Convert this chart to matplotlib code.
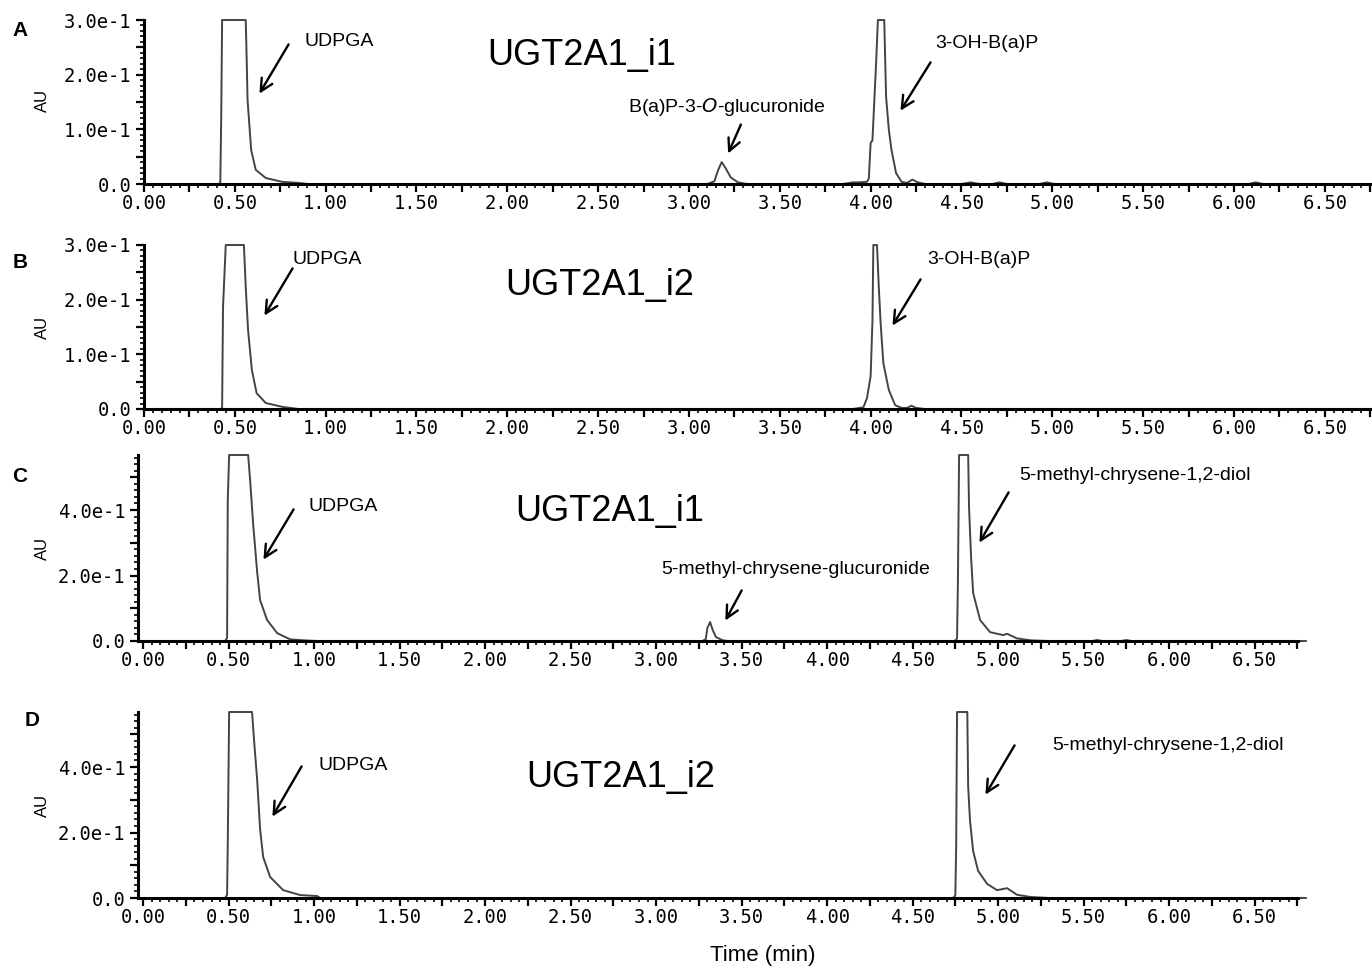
import matplotlib
matplotlib.use("Agg")
import matplotlib.pyplot as plt
from matplotlib.ticker import MultipleLocator, FuncFormatter

# ---------------- data ----------------
# Panel A: UGT2A1_i1 with 3-OH-B(a)P
t_A = [0.00, 0.41, 0.42, 0.425, 0.43, 0.56, 0.565, 0.57, 0.59, 0.615, 0.67, 0.76, 0.85, 0.90,
       3.10, 3.14, 3.16, 3.18, 3.20, 3.23, 3.27, 3.32,
       3.85, 3.90, 3.93, 3.98, 3.99, 4.00, 4.01, 4.03, 4.04, 4.075, 4.085, 4.10, 4.115, 4.14,
       4.17, 4.20, 4.23, 4.26, 4.30, 4.50, 4.55, 4.60, 4.67, 4.71, 4.75, 4.93, 4.97, 5.01,
       6.08, 6.12, 6.16, 6.80]
au_A = [0.0, 0.0, 0.002, 0.12, 0.30, 0.30, 0.232, 0.154, 0.062, 0.026, 0.011, 0.004, 0.002, 0.0,
        0.0, 0.005, 0.025, 0.040, 0.030, 0.012, 0.003, 0.0,
        0.0, 0.003, 0.003, 0.004, 0.010, 0.075, 0.080, 0.22, 0.30, 0.30, 0.16, 0.10, 0.062, 0.020,
        0.004, 0.002, 0.008, 0.003, 0.0, 0.0, 0.003, 0.0, 0.0, 0.003, 0.0, 0.0, 0.003, 0.0,
        0.0, 0.003, 0.0, 0.0]

# Panel B: UGT2A1_i2 with 3-OH-B(a)P
t_B = [0.00, 0.42, 0.43, 0.435, 0.45, 0.55, 0.56, 0.573, 0.594, 0.62, 0.67, 0.76, 0.85,
       3.90, 3.96, 3.98, 3.99, 4.00, 4.01, 4.015, 4.035, 4.045, 4.055, 4.07, 4.10, 4.135,
       4.17, 4.20, 4.225, 4.25, 4.30, 6.80]
au_B = [0.0, 0.0, 0.002, 0.186, 0.30, 0.30, 0.223, 0.144, 0.071, 0.029, 0.011, 0.004, 0.0,
        0.0, 0.003, 0.020, 0.040, 0.060, 0.160, 0.30, 0.30, 0.223, 0.157, 0.084, 0.035, 0.007,
        0.002, 0.002, 0.006, 0.002, 0.0, 0.0]

# Panel C: UGT2A1_i1 with 5-methyl-chrysene-1,2-diol
t_C = [-0.03, 0.48, 0.491, 0.495, 0.503, 0.614, 0.626, 0.643, 0.667, 0.684, 0.725, 0.784, 0.86,
       0.94, 1.02,
       3.27, 3.29, 3.30, 3.316, 3.33, 3.35, 3.39, 3.42,
       4.74, 4.755, 4.76, 4.765, 4.772, 4.825, 4.83, 4.842, 4.854, 4.895, 4.953, 5.03, 5.053,
       5.11, 5.19, 5.30, 5.55, 5.58, 5.61, 5.72, 5.75, 5.78, 6.80]
au_C = [0.0, 0.0, 0.01, 0.43, 0.568, 0.568, 0.49, 0.36, 0.21, 0.125, 0.064, 0.024, 0.005,
        0.002, 0.0,
        0.0, 0.005, 0.040, 0.058, 0.035, 0.012, 0.002, 0.0,
        0.0, 0.003, 0.01, 0.177, 0.568, 0.568, 0.41, 0.257, 0.147, 0.064, 0.027, 0.018, 0.022,
        0.008, 0.002, 0.0, 0.0, 0.003, 0.0, 0.0, 0.003, 0.0, 0.0]

# Panel D: UGT2A1_i2 with 5-methyl-chrysene-1,2-diol
t_D = [-0.03, 0.48, 0.491, 0.495, 0.503, 0.637, 0.649, 0.667, 0.684, 0.702, 0.743, 0.819, 0.918,
       1.018, 1.035,
       4.73, 4.745, 4.75, 4.755, 4.76, 4.82, 4.825, 4.836, 4.854, 4.883, 4.936, 4.994, 5.053,
       5.11, 5.19, 5.30, 6.80]
au_D = [0.0, 0.0, 0.01, 0.168, 0.568, 0.568, 0.48, 0.36, 0.21, 0.125, 0.064, 0.024, 0.009,
        0.006, 0.0,
        0.0, 0.003, 0.01, 0.16, 0.568, 0.568, 0.34, 0.235, 0.144, 0.083, 0.043, 0.024, 0.030,
        0.010, 0.003, 0.0, 0.0]

titles = ["UGT2A1_i1", "UGT2A1_i2", "UGT2A1_i1", "UGT2A1_i2"]
panel_letters = ["A", "B", "C", "D"]
x_label = "Time (min)"
y_label = "AU"

# ---------------- figure ----------------
W, H = 1372, 968
fig = plt.figure(figsize=(W / 100, H / 100), dpi=100)
fig.patch.set_facecolor("white")

SANS = ["Liberation Sans", "DejaVu Sans"]
TICKFONT = ["DejaVu Sans Mono", "DejaVu Sans"]


def px_rect(left, right, top, bottom):
    return [left / W, 1 - bottom / H, (right - left) / W, (bottom - top) / H]


def fx(x):
    return x / W


def fy(y):
    return 1 - y / H


def ylab(v, pos):
    if abs(v) < 1e-9:
        return "0.0"
    return f"{v * 10:.1f}e-1"


def style_axes(ax, xlim, ylim, ymajor, ylabel_step, yminor):
    ax.set_xlim(*xlim)
    ax.set_ylim(*ylim)
    for s in ("top", "right"):
        ax.spines[s].set_visible(False)
    for s in ("left", "bottom"):
        ax.spines[s].set_linewidth(2.2)
        ax.spines[s].set_zorder(3)
    ax.xaxis.set_major_locator(MultipleLocator(0.25))
    ax.xaxis.set_minor_locator(MultipleLocator(0.05))
    ax.xaxis.set_major_formatter(
        FuncFormatter(lambda v, p: f"{v:.2f}" if abs(round(v / 0.5) * 0.5 - v) < 1e-6 else ""))
    ax.yaxis.set_major_locator(MultipleLocator(ymajor))
    ax.yaxis.set_minor_locator(MultipleLocator(yminor))
    ax.yaxis.set_major_formatter(
        FuncFormatter(lambda v, p: ylab(v, p) if abs(round(v / ylabel_step) * ylabel_step - v) < 1e-6 else ""))
    ax.tick_params(axis="both", which="major", direction="out", length=6, width=1.6, colors="black")
    ax.tick_params(axis="both", which="minor", direction="out", length=3, width=1.2, colors="black")
    ax.tick_params(axis="x", which="major", pad=1)
    ax.tick_params(axis="y", which="major", pad=3)
    for lab in ax.get_xticklabels() + ax.get_yticklabels():
        lab.set_fontfamily(TICKFONT)
        lab.set_fontsize(13.5)
    ax.set_facecolor("none")


panels = [
    dict(t=t_A, au=au_A, rect=px_rect(144, 1372, 20, 184), xlim=(0.0, 6.76), ylim=(0, 0.30),
         ymajor=0.05, ystep=0.1, yminor=0.01),
    dict(t=t_B, au=au_B, rect=px_rect(144, 1372, 245, 409), xlim=(0.0, 6.76), ylim=(0, 0.30),
         ymajor=0.05, ystep=0.1, yminor=0.01),
    dict(t=t_C, au=au_C, rect=px_rect(138, 1298, 455, 641), xlim=(-0.03, 6.754), ylim=(0, 0.568),
         ymajor=0.1, ystep=0.2, yminor=0.02),
    dict(t=t_D, au=au_D, rect=px_rect(138, 1298, 712, 898), xlim=(-0.03, 6.754), ylim=(0, 0.568),
         ymajor=0.1, ystep=0.2, yminor=0.02),
]

axes = []
for p in panels:
    ax = fig.add_axes(p["rect"])
    ax.plot(p["t"], p["au"], color="#444444", lw=1.4, clip_on=False, zorder=2)
    style_axes(ax, p["xlim"], p["ylim"], p["ymajor"], p["ystep"], p["yminor"])
    axes.append(ax)

# panel letters
for letter, (x, y) in zip(panel_letters, [(20, 30), (20, 262), (20, 477), (32, 720)]):
    fig.text(fx(x), fy(y), letter, fontsize=15, fontweight="bold", family=SANS,
             ha="center", va="center")

# AU labels
for y in (100, 327, 548, 805):
    fig.text(fx(42), fy(y), y_label, fontsize=12, family=SANS, rotation=90,
             ha="center", va="center")

# big titles
for title, (x, y) in zip(titles, [(582, 55), (600, 285), (610, 512), (621, 777)]):
    fig.text(fx(x), fy(y), title, fontsize=26, family=SANS, ha="center", va="center")

# peak annotations: (label, text-left-x, text-y, arrow tail, arrow tip), all in pixels
annotations = [
    ("UDPGA", 304, 42, (290, 42), (258, 96)),
    ("B(a)P-3-$\\mathit{O}$-glucuronide", 628, 107, (742, 122), (727, 156)),
    ("3-OH-B(a)P", 935, 43, (932, 60), (899, 113)),
    ("UDPGA", 293, 260, (294, 266), (263, 318)),
    ("3-OH-B(a)P", 927, 260, (922, 277), (891, 328)),
    ("UDPGA", 308, 507, (295, 507), (262, 562)),
    ("5-methyl-chrysene-glucuronide", 661, 570, (743, 588), (724, 623)),
    ("5-methyl-chrysene-1,2-diol", 1019, 475, (1010, 490), (978, 545)),
    ("UDPGA", 318, 765, (303, 764), (271, 819)),
    ("5-methyl-chrysene-1,2-diol", 1052, 745, (1016, 743), (984, 797)),
]
for label, tx, ty, tail, tip in annotations:
    fig.text(fx(tx), fy(ty), label, fontsize=14, family=SANS, ha="left", va="center")
    fig.add_artist(matplotlib.patches.FancyArrowPatch(
        (fx(tail[0]), fy(tail[1])), (fx(tip[0]), fy(tip[1])),
        transform=fig.transFigure, arrowstyle="->", mutation_scale=22, lw=1.7, color="black"))

fig.text(fx(763), fy(955), x_label, fontsize=16, family=SANS, ha="center", va="center")

fig.savefig("out.png", dpi=100, facecolor="white")
